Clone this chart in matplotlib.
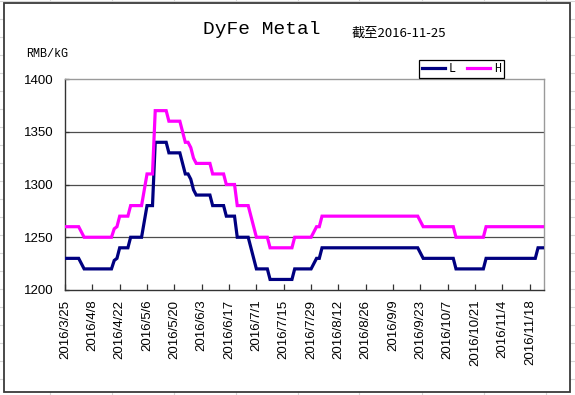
import numpy as np
import pandas as pd
import matplotlib
matplotlib.use("Agg")
import matplotlib.pyplot as plt
from matplotlib.lines import Line2D
from matplotlib.patches import Rectangle

# ---------------- data ----------------
dates = pd.bdate_range("2016-03-25", "2016-11-25")  # 176 trading days

low = [
    1230, 1230, 1230, 1230, 1230, 1230, 1225, 1220, 1220, 1220,
    1220, 1220, 1220, 1220, 1220, 1220, 1220, 1220, 1228, 1230,
    1240, 1240, 1240, 1240, 1250, 1250, 1250, 1250, 1250, 1265,
    1280, 1280, 1280, 1340, 1340, 1340, 1340, 1340, 1330, 1330,
    1330, 1330, 1330, 1320, 1310, 1310, 1305, 1295, 1290, 1290,
    1290, 1290, 1290, 1290, 1280, 1280, 1280, 1280, 1280, 1270,
    1270, 1270, 1270, 1250, 1250, 1250, 1250, 1250, 1240, 1230,
    1220, 1220, 1220, 1220, 1220, 1210, 1210, 1210, 1210, 1210,
    1210, 1210, 1210, 1210, 1220, 1220, 1220, 1220, 1220, 1220,
    1220, 1225, 1230, 1230, 1240, 1240, 1240, 1240, 1240, 1240,
    1240, 1240, 1240, 1240, 1240, 1240, 1240, 1240, 1240, 1240,
    1240, 1240, 1240, 1240, 1240, 1240, 1240, 1240, 1240, 1240,
    1240, 1240, 1240, 1240, 1240, 1240, 1240, 1240, 1240, 1240,
    1235, 1230, 1230, 1230, 1230, 1230, 1230, 1230, 1230, 1230,
    1230, 1230, 1230, 1220, 1220, 1220, 1220, 1220, 1220, 1220,
    1220, 1220, 1220, 1220, 1230, 1230, 1230, 1230, 1230, 1230,
    1230, 1230, 1230, 1230, 1230, 1230, 1230, 1230, 1230, 1230,
    1230, 1230, 1230, 1240, 1240, 1240,
]

high = [
    1260, 1260, 1260, 1260, 1260, 1260, 1255, 1250, 1250, 1250,
    1250, 1250, 1250, 1250, 1250, 1250, 1250, 1250, 1258, 1260,
    1270, 1270, 1270, 1270, 1280, 1280, 1280, 1280, 1280, 1295,
    1310, 1310, 1310, 1370, 1370, 1370, 1370, 1370, 1360, 1360,
    1360, 1360, 1360, 1350, 1340, 1340, 1335, 1325, 1320, 1320,
    1320, 1320, 1320, 1320, 1310, 1310, 1310, 1310, 1310, 1300,
    1300, 1300, 1300, 1280, 1280, 1280, 1280, 1280, 1270, 1260,
    1250, 1250, 1250, 1250, 1250, 1240, 1240, 1240, 1240, 1240,
    1240, 1240, 1240, 1240, 1250, 1250, 1250, 1250, 1250, 1250,
    1250, 1255, 1260, 1260, 1270, 1270, 1270, 1270, 1270, 1270,
    1270, 1270, 1270, 1270, 1270, 1270, 1270, 1270, 1270, 1270,
    1270, 1270, 1270, 1270, 1270, 1270, 1270, 1270, 1270, 1270,
    1270, 1270, 1270, 1270, 1270, 1270, 1270, 1270, 1270, 1270,
    1265, 1260, 1260, 1260, 1260, 1260, 1260, 1260, 1260, 1260,
    1260, 1260, 1260, 1250, 1250, 1250, 1250, 1250, 1250, 1250,
    1250, 1250, 1250, 1250, 1260, 1260, 1260, 1260, 1260, 1260,
    1260, 1260, 1260, 1260, 1260, 1260, 1260, 1260, 1260, 1260,
    1260, 1260, 1260, 1260, 1260, 1260,
]

tick_labels = [
    "2016/3/25", "2016/4/8", "2016/4/22", "2016/5/6", "2016/5/20", "2016/6/3",
    "2016/6/17", "2016/7/1", "2016/7/15", "2016/7/29", "2016/8/12", "2016/8/26",
    "2016/9/9", "2016/9/23", "2016/10/7", "2016/10/21", "2016/11/4", "2016/11/18",
]
y_ticks = [1200, 1250, 1300, 1350, 1400]

title = "DyFe Metal"
subtitle = "截至2016-11-25"
unit = "RMB/kG"
series_names = ["L", "H"]

# ---------------- figure ----------------
W, H = 575, 395
fig = plt.figure(figsize=(W / 100, H / 100), dpi=100)
fig.patch.set_facecolor("white")

# spreadsheet cell lines behind the chart
for xv in [50, 112, 174, 236, 298, 359, 422, 484, 546]:
    fig.add_artist(Line2D([xv / W, xv / W], [0, 1], transform=fig.transFigure,
                          color="#d6d6d6", lw=0.8, zorder=0))
for yv in range(1, H, 18):
    fig.add_artist(Line2D([0, 1], [1 - yv / H, 1 - yv / H], transform=fig.transFigure,
                          color="#d6d6d6", lw=0.8, zorder=0))
# chart area
fig.add_artist(Rectangle((3.5 / W, 1 - 392 / H), (570 - 3.5) / W, (392 - 3) / H,
                         transform=fig.transFigure, facecolor="white",
                         edgecolor="#3a3a3a", lw=1.3, zorder=1))

ax = fig.add_axes([65 / W, 1 - 290 / H, (543.5 - 65) / W, (290 - 79) / H], zorder=2)
ax.set_facecolor("white")

x = np.arange(len(dates))
ax.plot(x, low, color="#000080", lw=2.3, solid_joinstyle="miter", label=series_names[0], zorder=3)
ax.plot(x, high, color="#FF00FF", lw=2.3, solid_joinstyle="miter", label=series_names[1], zorder=3)

ax.set_xlim(0, len(dates) - 1)
ax.set_ylim(y_ticks[0], y_ticks[-1])

tick_pos = [dates.get_loc(pd.Timestamp(t.replace("/", "-"))) for t in tick_labels]
ax.set_xticks(tick_pos)
ax.set_xticklabels(tick_labels, rotation=90, fontsize=9.5, family="Liberation Sans")
ax.tick_params(axis="x", direction="in", length=4, width=0.9, color="#333333", pad=7)

ax.set_yticks(y_ticks)
ax.set_yticklabels([str(v) for v in y_ticks], fontsize=9.5, family="Liberation Sans")
ax.tick_params(axis="y", direction="in", length=3, width=0.9, color="#333333", pad=8.5)

for v in y_ticks[1:-1]:
    ax.axhline(v, color="#4d4d4d", lw=0.9, zorder=1)

ax.spines["left"].set_color("#333333")
ax.spines["bottom"].set_color("#333333")
ax.spines["top"].set_color("#9a9a9a")
ax.spines["right"].set_color("#9a9a9a")
for s in ax.spines.values():
    s.set_linewidth(1.0)

fig.text(262 / W, 1 - 30 / H, title, ha="center", va="center", fontsize=14,
         family="Liberation Mono")
fig.text(352 / W, 1 - 33 / H, subtitle, ha="left", va="center", fontsize=9.5,
         family=["Noto Sans CJK SC", "DejaVu Sans"])
fig.text(26 / W, 1 - 54 / H, unit, ha="left", va="center", fontsize=8.5,
         family="Liberation Mono")

leg = ax.legend(loc="upper left", bbox_to_anchor=(413 / W, 1 - 54 / H),
                bbox_transform=fig.transFigure, ncol=2, fancybox=False,
                framealpha=1, edgecolor="black", borderpad=0.25,
                handlelength=2.0, handletextpad=0.3, columnspacing=0.9,
                prop={"family": "Liberation Mono", "size": 8.5})
leg.get_frame().set_linewidth(0.9)

fig.savefig("out.png", dpi=100)
